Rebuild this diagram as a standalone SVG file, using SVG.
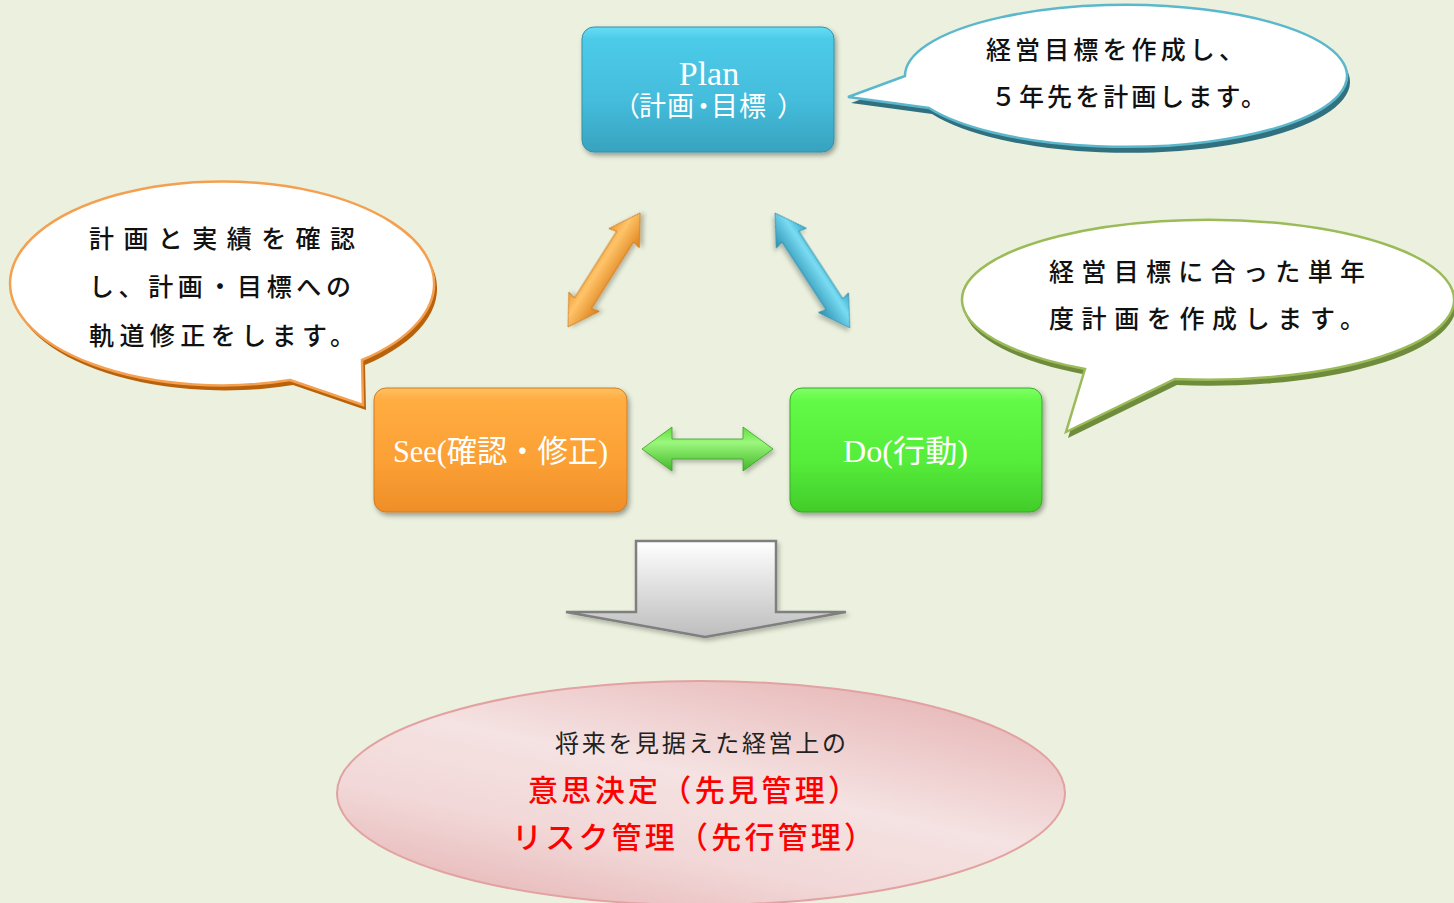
<svg xmlns="http://www.w3.org/2000/svg" width="1454" height="903" viewBox="0 0 1454 903">
<defs>
<style>
text{text-spacing-trim:space-all;}
.lbl{font-family:"Liberation Serif","Noto Sans CJK JP",serif;fill:#ffffff;}
.bt{font-family:"Noto Sans CJK JP","Noto Sans CJK SC",sans-serif;font-size:25px;font-weight:500;fill:#111;}
.red{font-family:"Noto Sans CJK JP","Noto Sans CJK SC",sans-serif;font-size:30px;font-weight:500;fill:#ff0000;}
.blk{font-family:"Noto Sans CJK JP","Noto Sans CJK SC",sans-serif;font-size:24px;font-weight:400;fill:#222;}
</style>
<filter id="sh" x="-20%" y="-20%" width="140%" height="150%"><feDropShadow dx="2" dy="3" stdDeviation="2.5" flood-color="#000" flood-opacity="0.35"/></filter>
<filter id="sh2" x="-20%" y="-20%" width="140%" height="150%"><feDropShadow dx="2" dy="3" stdDeviation="2" flood-color="#000" flood-opacity="0.25"/></filter>
<linearGradient id="gPlan" x1="0" y1="0" x2="0" y2="1"><stop offset="0" stop-color="#66DDF5"/><stop offset="0.1" stop-color="#4CCBE9"/><stop offset="0.6" stop-color="#44BCDB"/><stop offset="1" stop-color="#37A3BF"/></linearGradient>
<linearGradient id="gSee" x1="0" y1="0" x2="0" y2="1"><stop offset="0" stop-color="#FFC060"/><stop offset="0.1" stop-color="#FFAC40"/><stop offset="0.6" stop-color="#FBA035"/><stop offset="1" stop-color="#EE8E28"/></linearGradient>
<linearGradient id="gDo" x1="0" y1="0" x2="0" y2="1"><stop offset="0" stop-color="#80FF66"/><stop offset="0.1" stop-color="#62FA46"/><stop offset="0.6" stop-color="#55EC3A"/><stop offset="1" stop-color="#42CC2A"/></linearGradient>
<linearGradient id="gOr" x1="0" y1="0" x2="0" y2="1"><stop offset="0" stop-color="#F29A30"/><stop offset="0.35" stop-color="#FFC46A"/><stop offset="1" stop-color="#DC8018"/></linearGradient>
<linearGradient id="gBl" x1="0" y1="0" x2="0" y2="1"><stop offset="0" stop-color="#36AACC"/><stop offset="0.35" stop-color="#7ADCF2"/><stop offset="1" stop-color="#2A90B2"/></linearGradient>
<linearGradient id="gGr" x1="0" y1="0" x2="0" y2="1"><stop offset="0" stop-color="#5EE03C"/><stop offset="0.35" stop-color="#9BF77C"/><stop offset="1" stop-color="#42B82A"/></linearGradient>
<linearGradient id="gGray" x1="0" y1="0" x2="0" y2="1"><stop offset="0" stop-color="#FFFFFF"/><stop offset="1" stop-color="#BDBDBD"/></linearGradient>
<linearGradient id="gPink" x1="0.85" y1="0" x2="0.15" y2="1"><stop offset="0" stop-color="#E6B3B3"/><stop offset="0.45" stop-color="#F5E2E2"/><stop offset="0.7" stop-color="#F2D8D8"/><stop offset="1" stop-color="#E6B5B5"/></linearGradient>
</defs>
<rect x="0" y="0" width="1454" height="903" fill="#EBF1DE"/>

<g id="bubble-plan">
<path transform="translate(3,6)" d="M905,76 L848,97 L929,108 A221,71 0 1 0 905,76 Z" fill="#31707F"/>
<path d="M905,76 L848,97 L929,108 A221,71 0 1 0 905,76 Z" fill="#ffffff" stroke="#5BB8CC" stroke-width="2.5"/>
<text class="bt" x="986" y="59" textLength="258" lengthAdjust="spacing">経営目標を作成し、</text>
<text class="bt" x="991" y="106" textLength="275" lengthAdjust="spacing">５年先を計画します。</text>
</g>

<g id="bubble-see">
<path transform="translate(3,5)" d="M290,380 L363,405 L362,360 A212,102 0 1 0 290,380 Z" fill="#B8620C"/>
<path d="M290,380 L363,405 L362,360 A212,102 0 1 0 290,380 Z" fill="#ffffff" stroke="#F4A050" stroke-width="2.5"/>
<text class="bt" x="89" y="248" textLength="266" lengthAdjust="spacing">計画と実績を確認</text>
<text class="bt" x="89" y="296" textLength="262" lengthAdjust="spacing">し、計画・目標への</text>
<text class="bt" x="89" y="345" textLength="266" lengthAdjust="spacing">軌道修正をします。</text>
</g>

<g id="bubble-do">
<path transform="translate(2,6)" d="M1085,369 L1066,432 L1175,379 A246,80 0 1 0 1085,369 Z" fill="#6F8B3C"/>
<path d="M1085,369 L1066,432 L1175,379 A246,80 0 1 0 1085,369 Z" fill="#ffffff" stroke="#9BBB59" stroke-width="2.5"/>
<text class="bt" x="1049" y="281" textLength="316" lengthAdjust="spacing">経営目標に合った単年</text>
<text class="bt" x="1049" y="328" textLength="316" lengthAdjust="spacing">度計画を作成します。</text>
</g>

<g id="node-plan">
<rect x="582" y="27" width="252" height="125" rx="12" fill="url(#gPlan)" stroke="#3590A8" stroke-width="1" filter="url(#sh)"/>
<text class="lbl" x="709" y="85" font-size="34" text-anchor="middle">Plan</text>
<text class="lbl" x="613 639 667 690 711 739 777" y="116" font-size="27">（計画・目標）</text>
</g>

<g id="node-see">
<rect x="374" y="388" width="253" height="124" rx="12" fill="url(#gSee)" stroke="#D27C22" stroke-width="1" filter="url(#sh)"/>
<text class="lbl" x="393" y="462" font-size="31" textLength="215" lengthAdjust="spacingAndGlyphs">See(確認・修正)</text>
</g>

<g id="node-do">
<rect x="790" y="388" width="252" height="124" rx="12" fill="url(#gDo)" stroke="#3AA82A" stroke-width="1" filter="url(#sh)"/>
<text class="lbl" x="843" y="462" font-size="31" textLength="125" lengthAdjust="spacingAndGlyphs">Do(行動)</text>
</g>

<g id="connectors">
<g transform="translate(568,327) rotate(-57.7)" filter="url(#sh2)">
<polygon points="0,0 30,-18 28,-10 107,-10 105,-18 135,0 105,18 107,10 28,10 30,18" fill="url(#gOr)" stroke="#C87418" stroke-width="0.8"/>
</g>
<g transform="translate(775,213) rotate(56.9)" filter="url(#sh2)">
<polygon points="0,0 30,-18 28,-10 109,-10 107,-18 137,0 107,18 109,10 28,10 30,18" fill="url(#gBl)" stroke="#2A88A8" stroke-width="0.8"/>
</g>
<g transform="translate(642,449)" filter="url(#sh2)">
<polygon points="0,0 30,-22 30,-10 101,-10 101,-22 131,0 101,22 101,10 30,10 30,22" fill="url(#gGr)" stroke="#3AA024" stroke-width="0.8"/>
</g>
<polygon points="636,541 776,541 776,612 846,612 705,637 566,612 636,612" fill="url(#gGray)" stroke="#7F7F7F" stroke-width="2.5" stroke-linejoin="miter" filter="url(#sh2)"/>
</g>

<g id="node-result">
<ellipse cx="701" cy="793" rx="364" ry="112" fill="url(#gPink)" stroke="#E2A2A2" stroke-width="2"/>
<text class="blk" x="555" y="752" textLength="291" lengthAdjust="spacing">将来を見据えた経営上の</text>
<text class="red" x="528" y="801" textLength="330" lengthAdjust="spacing">意思決定（先見管理）</text>
<text class="red" x="512" y="848" textLength="362" lengthAdjust="spacing">リスク管理（先行管理）</text>
</g>
</svg>
